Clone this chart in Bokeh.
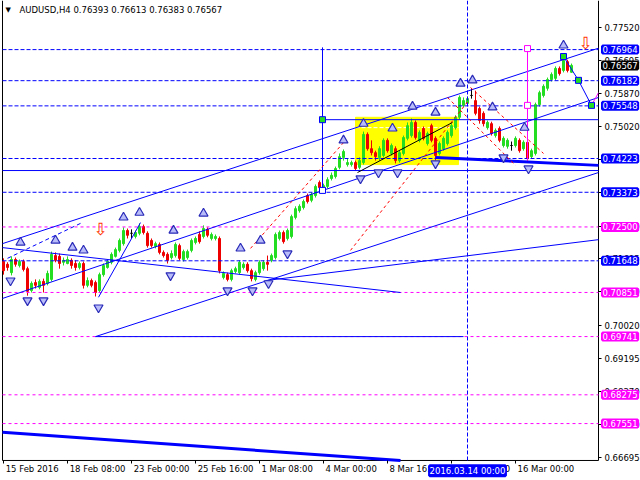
from bokeh.plotting import figure
from bokeh.models import FixedTicker, PrintfTickFormatter, Label, Range1d, ColumnDataSource, LinearAxis
from bokeh.core.properties import value
from bokeh.embed import file_html
from bokeh.resources import INLINE

# ---------------- data (AUDUSD H4) ----------------
header_text = "AUDUSD,H4  0.76393 0.76613 0.76383 0.76567"

opens = [
    0.7163, 0.7156, 0.7135, 0.7168, 0.7153, 0.7163, 0.7145, 0.7090, 0.7110, 0.7098,
    0.7113, 0.7108, 0.7118, 0.7178, 0.7176, 0.7161, 0.7158, 0.7166, 0.7158, 0.7148,
    0.7158, 0.7103, 0.7115, 0.7110, 0.7090, 0.7130, 0.7148, 0.7161, 0.7176, 0.7191,
    0.7208, 0.7241, 0.7234, 0.7226, 0.7234, 0.7251, 0.7234, 0.7216, 0.7201, 0.7206,
    0.7186, 0.7181, 0.7173, 0.7178, 0.7203, 0.7168, 0.7173, 0.7191, 0.7211, 0.7231,
    0.7226, 0.7244, 0.7221, 0.7221, 0.7221, 0.7123, 0.7130, 0.7118, 0.7138, 0.7135,
    0.7148, 0.7156, 0.7140, 0.7118, 0.7135, 0.7145, 0.7161, 0.7166, 0.7173, 0.7221,
    0.7236, 0.7221, 0.7226, 0.7274, 0.7291, 0.7299, 0.7329, 0.7317, 0.7329, 0.7362,
    0.7347, 0.7352, 0.7372, 0.7377, 0.7400, 0.7425, 0.7407, 0.7407, 0.7412, 0.7400,
    0.7412, 0.7483, 0.7447, 0.7437, 0.7425, 0.7430, 0.7468, 0.7435, 0.7447, 0.7417,
    0.7435, 0.7473, 0.7480, 0.7513, 0.7468, 0.7498, 0.7460, 0.7505, 0.7473, 0.7435,
    0.7447, 0.7460, 0.7480, 0.7500, 0.7526, 0.7556, 0.7561, 0.7581, 0.7568, 0.7548,
    0.7536, 0.7500, 0.7510, 0.7480, 0.7498, 0.7455, 0.7453, 0.7455, 0.7455, 0.7468,
    0.7447, 0.7463, 0.7427, 0.7435, 0.7558, 0.7581, 0.7599, 0.7621, 0.7624, 0.7649,
    0.7644, 0.7666, 0.76393]

highs = [
    0.7171, 0.7161, 0.7176, 0.7173, 0.7168, 0.7168, 0.7150, 0.7113, 0.7118, 0.7118,
    0.7120, 0.7140, 0.7188, 0.7186, 0.7183, 0.7173, 0.7176, 0.7171, 0.7166, 0.7163,
    0.7163, 0.7123, 0.7120, 0.7115, 0.7135, 0.7158, 0.7168, 0.7186, 0.7198, 0.7221,
    0.7249, 0.7246, 0.7244, 0.7241, 0.7259, 0.7256, 0.7239, 0.7221, 0.7213, 0.7211,
    0.7191, 0.7186, 0.7191, 0.7211, 0.7208, 0.7193, 0.7193, 0.7221, 0.7226, 0.7239,
    0.7254, 0.7249, 0.7236, 0.7231, 0.7226, 0.7138, 0.7135, 0.7145, 0.7150, 0.7166,
    0.7161, 0.7161, 0.7145, 0.7140, 0.7166, 0.7166, 0.7178, 0.7183, 0.7236, 0.7241,
    0.7241, 0.7246, 0.7281, 0.7302, 0.7307, 0.7319, 0.7334, 0.7337, 0.7357, 0.7367,
    0.7359, 0.7375, 0.7387, 0.7402, 0.7435, 0.7445, 0.7422, 0.7417, 0.7417, 0.7425,
    0.7490, 0.7488, 0.7468, 0.7442, 0.7453, 0.7473, 0.7473, 0.7460, 0.7453, 0.7442,
    0.7480, 0.7513, 0.7523, 0.7518, 0.7493, 0.7503, 0.7490, 0.7510, 0.7478, 0.7465,
    0.7478, 0.7493, 0.7510, 0.7531, 0.7581, 0.7576, 0.7578, 0.7599, 0.7593, 0.7553,
    0.7541, 0.7518, 0.7515, 0.7498, 0.7503, 0.7478, 0.7473, 0.7465, 0.7478, 0.7473,
    0.7468, 0.7468, 0.7447, 0.7563, 0.7593, 0.7609, 0.7626, 0.7639, 0.7654, 0.7654,
    0.7674, 0.7671, 0.76613]

lows = [
    0.7130, 0.7140, 0.7128, 0.7150, 0.7148, 0.7138, 0.7077, 0.7085, 0.7095, 0.7093,
    0.7085, 0.7103, 0.7113, 0.7161, 0.7145, 0.7153, 0.7156, 0.7145, 0.7140, 0.7143,
    0.7095, 0.7098, 0.7098, 0.7075, 0.7085, 0.7125, 0.7145, 0.7156, 0.7173, 0.7186,
    0.7203, 0.7221, 0.7221, 0.7221, 0.7229, 0.7231, 0.7198, 0.7198, 0.7196, 0.7181,
    0.7173, 0.7158, 0.7168, 0.7173, 0.7166, 0.7163, 0.7168, 0.7186, 0.7206, 0.7208,
    0.7221, 0.7224, 0.7216, 0.7216, 0.7133, 0.7118, 0.7113, 0.7113, 0.7133, 0.7130,
    0.7143, 0.7135, 0.7113, 0.7113, 0.7130, 0.7140, 0.7140, 0.7161, 0.7168, 0.7216,
    0.7208, 0.7216, 0.7221, 0.7269, 0.7286, 0.7294, 0.7309, 0.7312, 0.7324, 0.7342,
    0.7342, 0.7347, 0.7367, 0.7372, 0.7395, 0.7417, 0.7402, 0.7402, 0.7392, 0.7395,
    0.7407, 0.7442, 0.7430, 0.7417, 0.7417, 0.7425, 0.7437, 0.7430, 0.7410, 0.7412,
    0.7430, 0.7468, 0.7475, 0.7470, 0.7463, 0.7468, 0.7455, 0.7463, 0.7417, 0.7430,
    0.7442, 0.7455, 0.7475, 0.7495, 0.7520, 0.7551, 0.7556, 0.7573, 0.7531, 0.7510,
    0.7503, 0.7495, 0.7480, 0.7475, 0.7463, 0.7450, 0.7447, 0.7442, 0.7450, 0.7437,
    0.7442, 0.7412, 0.7422, 0.7430, 0.7553, 0.7576, 0.7593, 0.7616, 0.7619, 0.7631,
    0.7639, 0.7639, 0.76383]

closes = [
    0.7140, 0.7148, 0.7168, 0.7156, 0.7163, 0.7143, 0.7088, 0.7108, 0.7103, 0.7113,
    0.7103, 0.7133, 0.7181, 0.7166, 0.7158, 0.7166, 0.7168, 0.7153, 0.7148, 0.7158,
    0.7103, 0.7115, 0.7103, 0.7085, 0.7130, 0.7153, 0.7163, 0.7181, 0.7193, 0.7216,
    0.7241, 0.7229, 0.7234, 0.7236, 0.7251, 0.7236, 0.7203, 0.7203, 0.7208, 0.7186,
    0.7178, 0.7166, 0.7183, 0.7206, 0.7171, 0.7188, 0.7188, 0.7216, 0.7221, 0.7213,
    0.7246, 0.7229, 0.7231, 0.7226, 0.7140, 0.7133, 0.7118, 0.7140, 0.7145, 0.7161,
    0.7156, 0.7140, 0.7120, 0.7135, 0.7161, 0.7161, 0.7156, 0.7178, 0.7231, 0.7236,
    0.7213, 0.7241, 0.7276, 0.7296, 0.7302, 0.7314, 0.7314, 0.7332, 0.7352, 0.7349,
    0.7354, 0.7369, 0.7380, 0.7397, 0.7427, 0.7440, 0.7412, 0.7412, 0.7397, 0.7417,
    0.7483, 0.7447, 0.7437, 0.7427, 0.7447, 0.7468, 0.7442, 0.7455, 0.7417, 0.7437,
    0.7475, 0.7505, 0.7513, 0.7475, 0.7488, 0.7473, 0.7485, 0.7468, 0.7430, 0.7460,
    0.7473, 0.7488, 0.7505, 0.7526, 0.7576, 0.7568, 0.7573, 0.7581, 0.7536, 0.7518,
    0.7510, 0.7513, 0.7485, 0.7493, 0.7468, 0.7473, 0.7468, 0.7455, 0.7473, 0.7442,
    0.7463, 0.7422, 0.7442, 0.7558, 0.7588, 0.7604, 0.7621, 0.7634, 0.7649, 0.7636,
    0.7669, 0.7644, 0.76567]

# time axis: bar index of each label
time_tick_bars = [0, 16, 32, 48, 64, 80, 96, 112, 128]
time_tick_labels = ["15 Feb 2016", "18 Feb 08:00", "23 Feb 00:00", "25 Feb 16:00",
                    "1 Mar 08:00", "4 Mar 00:00", "8 Mar 16:00", "11 Mar 08:00", "16 Mar 00:00"]
cursor_bar = 116
cursor_label = "2016.03.14 00:00"

# price axis ticks
price_ticks = [0.77520, 0.76695, 0.75870, 0.75020, 0.74195, 0.73370, 0.72520,
               0.71695, 0.70870, 0.70020, 0.69195, 0.68370, 0.67520, 0.66695]

# horizontal levels
blue_levels = [0.76964, 0.76182, 0.75548, 0.74223, 0.73373, 0.71648]
magenta_levels = [0.72500, 0.70851, 0.69741, 0.68275, 0.67551]
last_price = 0.76567

# trend lines (bar index, price)
tl_x0 = [-0.25, -0.25, 23.0, -0.25, 65.5, -0.25, 79.75, 23.0, 79.75, 23.75]
tl_y0 = [0.7208, 0.7070, 0.6974, 0.7198, 0.7115, 0.7392, 0.7520, 0.6974, 0.7702, 0.7073]
tl_x1 = [148.75, 148.75, 148.75, 99.25, 148.75, 148.75, 148.75, 115.0, 79.75, 34.25]
tl_y1 = [0.7700, 0.7576, 0.7387, 0.7085, 0.7218, 0.7392, 0.7520, 0.6974, 0.7342, 0.7261]

thick_x0 = [-0.25, 108.0]
thick_y0 = [0.6733, 0.7425]
thick_x1 = [99.25, 148.75]
thick_y1 = [0.6662, 0.7405]

wave_bars = [140.0, 143.75, 147.0]
wave_prices = [0.7679, 0.7619, 0.7556]

mag_x0 = [131.0, 147.0]
mag_y0 = [0.7699, 0.7556]
mag_x1 = [131.0, 148.75]
mag_y1 = [0.7417, 0.7588]

red_x0 = [61.75, 86.75, 116.75, 111.0]
red_y0 = [0.7196, 0.7191, 0.7601, 0.7576]
red_x1 = [85.5, 116.25, 135.0, 128.0]
red_y1 = [0.7468, 0.7568, 0.7435, 0.7405]

dash_blue_x0 = [1.0]
dash_blue_y0 = [0.7171]
dash_blue_x1 = [19.25]
dash_blue_y1 = [0.7259]

black_x0 = [88.5]
black_y0 = [0.7387]
black_x1 = [112.25]
black_y1 = [0.7513]

box_left, box_right, box_top, box_bottom = 88.0, 113.75, 0.7526, 0.7407
box_mid_level = 0.7500

# fractals
up_bars = [4.25, 13, 17.25, 20, 30, 34, 42.5, 50, 59.25, 64.25, 85, 90, 97.25,
           102.25, 108, 114.25, 117.25, 122.25, 130.25, 140]
up_prices = [0.7211, 0.7216, 0.7198, 0.7191, 0.7274, 0.7286, 0.7241, 0.7284, 0.7196, 0.7216,
             0.7468, 0.7510, 0.7498, 0.7553, 0.7538, 0.7611, 0.7619, 0.7551, 0.7500, 0.7707]
dn_bars = [1.75, 6, 10, 23.75, 41.75, 56, 62.25, 66.25, 71, 89.25, 93.75, 98.5, 108, 125, 131.25]
dn_prices = [0.7115, 0.7065, 0.7065, 0.7047, 0.7128, 0.7090, 0.7090, 0.7108, 0.7183,
             0.7372, 0.7387, 0.7387, 0.7410, 0.7425, 0.7397]

green_sq_bars = [79.75, 140.0, 143.75, 147.0]
green_sq_prices = [0.7520, 0.7679, 0.7619, 0.7556]
white_sq_bars = [79.75]
white_sq_prices = [0.7342]
mag_sq_bars = [131.0, 131.0]
mag_sq_prices = [0.7699, 0.7556]

arrow_bars = [24.25, 145.5]
arrow_prices = [0.7246, 0.7712]

# ---------------- figure ----------------
FONT = "DejaVu Sans"
FS = "8.5px"
GREEN = "#22DD22"
RED = "#EE0000"
BLUE = "#0000FF"
MAGENTA = "#FF00FF"

# chart area (bars / prices) and the whole canvas around it
x_lo, x_hi = -0.25, 148.75
y_lo, y_hi = 0.66622, 0.78200
canvas_x = (-0.75, 159.25)
canvas_y = (0.66118, 0.78200)
PX_PER_BAR = 4.0

p = figure(width=640, height=480, output_backend="svg", toolbar_location=None,
           y_axis_location="right",
           x_range=Range1d(*canvas_x), y_range=Range1d(*canvas_y),
           min_border_left=0, min_border_right=0, min_border_top=0, min_border_bottom=0)
p.xgrid.visible = False
p.ygrid.visible = False
p.outline_line_color = None
p.background_fill_color = "white"
p.border_fill_color = "white"

# x axis 1: tick marks only at the true bar positions, pinned to the chart bottom
xa = p.xaxis[0]
xa.fixed_location = y_lo
xa.ticker = FixedTicker(ticks=time_tick_bars, minor_ticks=[])
xa.major_label_overrides = {b: "" for b in time_tick_bars}
xa.major_label_text_font_size = "0px"
xa.major_label_standoff = 0
xa.major_tick_out = 3
xa.major_tick_in = 0
xa.minor_tick_out = 0
xa.minor_tick_in = 0
xa.axis_line_color = None
xa.major_tick_line_color = "black"

# x axis 2: labels, left-aligned after each tick mark (MetaTrader style)
CHAR_W = {d: 5.4 for d in "0123456789"}
CHAR_W.update({" ": 2.7, ":": 2.9, ".": 2.7, "F": 4.9, "e": 5.2, "b": 5.4, "M": 7.3,
               "a": 5.2, "r": 3.5})
def text_w(s):
    return sum(CHAR_W.get(ch, 5.0) for ch in s)
label_centres = [b + (text_w(t) / 2 + 2) / PX_PER_BAR for b, t in zip(time_tick_bars, time_tick_labels)]
xb = LinearAxis(ticker=FixedTicker(ticks=label_centres, minor_ticks=[]), fixed_location=y_lo)
xb.major_label_overrides = {c: t for c, t in zip(label_centres, time_tick_labels)}
xb.axis_line_color = None
xb.major_tick_line_color = None
xb.major_tick_out = 0
xb.major_tick_in = 0
xb.minor_tick_out = 0
xb.minor_tick_in = 0
xb.major_label_standoff = 4
xb.major_label_text_font = FONT
xb.major_label_text_font_size = FS
xb.major_label_text_color = "black"
p.add_layout(xb, "below")

# price axis pinned to the right edge of the chart
ya = p.yaxis[0]
ya.fixed_location = x_hi
ya.ticker = FixedTicker(ticks=price_ticks, minor_ticks=[])
ya.formatter = PrintfTickFormatter(format="%.5f")
ya.major_tick_out = 3
ya.major_tick_in = 0
ya.minor_tick_out = 0
ya.minor_tick_in = 0
ya.major_label_standoff = 3
ya.axis_line_color = None
ya.major_tick_line_color = "black"
ya.major_label_text_font = FONT
ya.major_label_text_font_size = FS
ya.major_label_text_color = "black"

# chart frame (left, bottom, right edges)
p.segment(x0=[x_lo, x_lo, x_hi], y0=[y_lo, y_lo, y_lo], x1=[x_lo, x_hi, x_hi],
          y1=[y_hi, y_lo, y_hi], line_color="black", line_width=1)

# yellow rectangle
p.quad(left=[box_left], right=[box_right], top=[box_top], bottom=[box_bottom],
       fill_color="#FFFF00", line_color="#FFFF00")
p.segment(x0=[box_left], y0=[box_mid_level], x1=[box_right], y1=[box_mid_level],
          line_color="white", line_dash="4 2", line_width=1)

# candles
n = len(closes)
bars = list(range(n))
colors = [GREEN if c > o else (RED if c < o else "black") for o, c in zip(opens, closes)]
src = ColumnDataSource(dict(
    x=bars, h=highs, l=lows,
    top=[max(o, c) for o, c in zip(opens, closes)],
    bottom=[min(o, c) for o, c in zip(opens, closes)],
    color=colors))
p.segment(x0="x", y0="l", x1="x", y1="h", line_color="color", line_width=1, source=src)
p.vbar(x="x", top="top", bottom="bottom", width=0.5, fill_color="color",
       line_color="color", line_width=1, source=src)

# horizontal level lines
p.segment(x0=[x_lo] * len(blue_levels), y0=blue_levels, x1=[x_hi] * len(blue_levels),
          y1=blue_levels, line_color=BLUE, line_dash="4 2", line_width=1)
p.segment(x0=[x_lo] * len(magenta_levels), y0=magenta_levels, x1=[x_hi] * len(magenta_levels),
          y1=magenta_levels, line_color=MAGENTA, line_dash="3 3", line_width=1)

# cursor vertical line
p.segment(x0=[cursor_bar], y0=[y_lo], x1=[cursor_bar], y1=[y_hi],
          line_color=BLUE, line_dash="4 2", line_width=1)

# trend lines
p.segment(x0=tl_x0, y0=tl_y0, x1=tl_x1, y1=tl_y1, line_color=BLUE, line_width=1)
p.segment(x0=thick_x0, y0=thick_y0, x1=thick_x1, y1=thick_y1, line_color=BLUE, line_width=3)
p.segment(x0=dash_blue_x0, y0=dash_blue_y0, x1=dash_blue_x1, y1=dash_blue_y1,
          line_color=BLUE, line_dash="4 3", line_width=1)
p.segment(x0=red_x0, y0=red_y0, x1=red_x1, y1=red_y1, line_color="#FF0000",
          line_dash="3 3", line_width=1)
p.segment(x0=black_x0, y0=black_y0, x1=black_x1, y1=black_y1, line_color="black", line_width=1)
p.segment(x0=mag_x0, y0=mag_y0, x1=mag_x1, y1=mag_y1, line_color=MAGENTA, line_width=1)
p.line(x=wave_bars, y=wave_prices, line_color=BLUE, line_width=1)

# squares
p.scatter(x=green_sq_bars, y=green_sq_prices, marker="square", size=6,
          fill_color="#22DD22", line_color=BLUE)
p.scatter(x=white_sq_bars, y=white_sq_prices, marker="square", size=6,
          fill_color="white", line_color=BLUE)
p.scatter(x=mag_sq_bars, y=mag_sq_prices, marker="square", size=6,
          fill_color="white", line_color=MAGENTA)

# fractals
p.scatter(x=up_bars, y=up_prices, marker="triangle", size=9,
          fill_color="#B8BCF8", line_color="#2A2AB8", line_width=1.2)
p.scatter(x=dn_bars, y=dn_prices, marker="inverted_triangle", size=9,
          fill_color="#B8BCF8", line_color="#2A2AB8", line_width=1.2)

# hollow red arrows
p.text(x=arrow_bars, y=arrow_prices, text=["\u21e9"] * len(arrow_bars),
       text_color="#FF3300", text_font=value(FONT), text_font_size="17px",
       text_align="center", text_baseline="middle")

# header
p.add_layout(Label(x=0.5, y=0.7796, text="\u25bc", text_font=FONT, text_font_size="7px",
                   text_color="black", text_baseline="middle"))
p.add_layout(Label(x=4.0, y=0.7796, text=header_text, text_font=FONT, text_font_size=FS,
                   text_color="black", text_baseline="middle"))

# price boxes on the right axis
box_x = x_hi + 1.0
def price_box(level, fill):
    p.add_layout(Label(x=box_x, y=level, text=f"{level:.5f}", text_font=FONT, text_font_size=FS,
                       text_color="white", text_baseline="middle", text_align="left",
                       background_fill_color=fill, border_line_color=fill,
                       border_line_width=3))
for lv in blue_levels:
    price_box(lv, BLUE)
for lv in magenta_levels:
    price_box(lv, MAGENTA)
price_box(last_price, "black")

# highlighted cursor date
p.add_layout(Label(x=cursor_bar, y=0.66365, text=cursor_label, text_font=FONT, text_font_size=FS,
                   text_color="white", text_baseline="middle", text_align="center",
                   background_fill_color=BLUE, border_line_color=BLUE, border_line_width=3))

open("out.html", "w").write(file_html(p, INLINE))
